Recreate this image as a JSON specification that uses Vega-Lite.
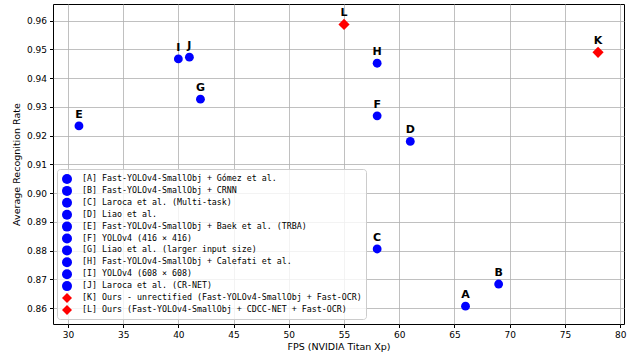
{
  "$schema": "https://vega.github.io/schema/vega-lite/v6.json",
  "width": 571,
  "height": 320,
  "autosize": {"type": "none"},
  "padding": {"left": 53, "top": 4, "right": 11, "bottom": 28},
  "background": "white",
  "config": {
    "font": "DejaVu Sans",
    "view": {"stroke": "black", "strokeWidth": 1},
    "axis": {
      "grid": true,
      "gridColor": "#b0b0b0",
      "gridWidth": 0.8,
      "domain": false,
      "tickColor": "black",
      "tickSize": 3.5,
      "labelFont": "DejaVu Sans",
      "labelFontSize": 9,
      "labelColor": "black",
      "titleFont": "DejaVu Sans",
      "titleFontSize": 9.5,
      "titleFontWeight": "normal",
      "titleColor": "black"
    }
  },
  "data": {
    "values": [
      {"id": "A", "fps": 66, "rate": 0.8607, "label": "[A] Fast-YOLOv4-SmallObj + Gómez et al."},
      {"id": "B", "fps": 69, "rate": 0.8684, "label": "[B] Fast-YOLOv4-SmallObj + CRNN"},
      {"id": "C", "fps": 58, "rate": 0.8806, "label": "[C] Laroca et al. (Multi-task)"},
      {"id": "D", "fps": 61, "rate": 0.9180, "label": "[D] Liao et al."},
      {"id": "E", "fps": 31, "rate": 0.9234, "label": "[E] Fast-YOLOv4-SmallObj + Baek et al. (TRBA)"},
      {"id": "F", "fps": 58, "rate": 0.9269, "label": "[F] YOLOv4 (416 × 416)"},
      {"id": "G", "fps": 42, "rate": 0.9327, "label": "[G] Liao et al. (larger input size)"},
      {"id": "H", "fps": 58, "rate": 0.9452, "label": "[H] Fast-YOLOv4-SmallObj + Calefati et al."},
      {"id": "I", "fps": 40, "rate": 0.9467, "label": "[I] YOLOv4 (608 × 608)"},
      {"id": "J", "fps": 41, "rate": 0.9473, "label": "[J] Laroca et al. (CR-NET)"},
      {"id": "K", "fps": 78, "rate": 0.9490, "label": "[K] Ours - unrectified (Fast-YOLOv4-SmallObj + Fast-OCR)"},
      {"id": "L", "fps": 55, "rate": 0.9587, "label": "[L] Ours (Fast-YOLOv4-SmallObj + CDCC-NET + Fast-OCR)"}
    ]
  },
  "encoding": {
    "x": {
      "field": "fps", "type": "quantitative",
      "scale": {"domain": [28.65, 80.35], "nice": false, "zero": false},
      "axis": {"values": [30, 35, 40, 45, 50, 55, 60, 65, 70, 75, 80], "title": "FPS (NVIDIA Titan Xp)", "titlePadding": 2, "labelPadding": 3}
    },
    "y": {
      "field": "rate", "type": "quantitative",
      "scale": {"domain": [0.8545, 0.9658], "nice": false, "zero": false},
      "axis": {"values": [0.86, 0.87, 0.88, 0.89, 0.90, 0.91, 0.92, 0.93, 0.94, 0.95, 0.96], "format": ".2f", "title": "Average Recognition Rate", "titlePadding": 5, "labelPadding": 3}
    }
  },
  "layer": [
    {
      "mark": {"type": "point", "filled": true, "opacity": 1},
      "encoding": {
        "color": {
          "field": "label", "type": "nominal",
          "scale": {"range": ["#0000ff", "#0000ff", "#0000ff", "#0000ff", "#0000ff", "#0000ff", "#0000ff", "#0000ff", "#0000ff", "#0000ff", "#ff0000", "#ff0000"]},
          "legend": {
            "title": null,
            "orient": "none",
            "legendX": 4,
            "legendY": 165,
            "padding": 4,
            "rowPadding": 0.9,
            "labelFont": "DejaVu Sans Mono",
            "labelFontSize": 8.3,
            "labelColor": "black",
            "labelLimit": 400,
            "labelOffset": 9,
            "strokeColor": "#cccccc",
            "fillColor": "rgba(255,255,255,0.8)",
            "cornerRadius": 3,
            "encode": {
              "symbols": {
                "update": {
                  "size": {"signal": "indexof(datum.value, 'Ours') >= 0 ? 130 : 88"}
                }
              }
            }
          }
        },
        "shape": {
          "field": "label", "type": "nominal",
          "scale": {"range": ["circle", "circle", "circle", "circle", "circle", "circle", "circle", "circle", "circle", "circle", "diamond", "diamond"]}
        },
        "size": {
          "condition": {"test": "datum.id == 'K' || datum.id == 'L'", "value": 125},
          "value": 78
        }
      }
    },
    {
      "mark": {"type": "text", "fontWeight": "bold", "fontSize": 11, "dy": -8, "baseline": "alphabetic", "color": "black", "font": "DejaVu Sans"},
      "encoding": {"text": {"field": "id"}}
    }
  ]
}
